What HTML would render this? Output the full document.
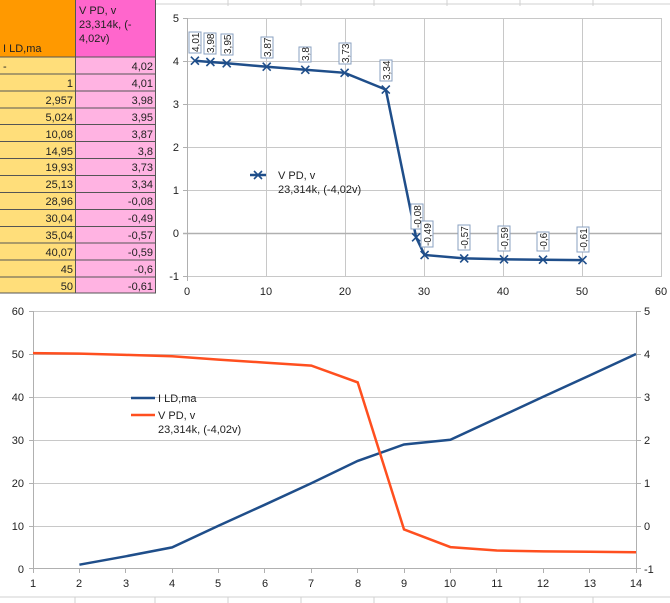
<!DOCTYPE html>
<html><head><meta charset="utf-8"><style>
body{margin:0;width:670px;height:603px;background:#fff;overflow:hidden;font-family:"Liberation Sans","DejaVu Sans",sans-serif}
svg{position:absolute;left:0;top:0}
</style></head><body>
<svg width="670" height="603" viewBox="0 0 670 603" font-family="Liberation Sans, DejaVu Sans, sans-serif">
<!-- sheet grid -->
<g stroke="#d0d0d0" stroke-width="1">
<line x1="228" y1="0" x2="228" y2="6"/><line x1="301" y1="0" x2="301" y2="6"/><line x1="374" y1="0" x2="374" y2="6"/><line x1="447" y1="0" x2="447" y2="6"/><line x1="520" y1="0" x2="520" y2="6"/><line x1="593" y1="0" x2="593" y2="6"/>
<line x1="0" y1="4" x2="670" y2="4"/>
<line x1="0" y1="597" x2="670" y2="597"/>
<line x1="75" y1="597" x2="75" y2="603"/><line x1="155" y1="597" x2="155" y2="603"/><line x1="228" y1="597" x2="228" y2="603"/><line x1="301" y1="597" x2="301" y2="603"/><line x1="374" y1="597" x2="374" y2="603"/><line x1="447" y1="597" x2="447" y2="603"/><line x1="520" y1="597" x2="520" y2="603"/><line x1="593" y1="597" x2="593" y2="603"/>
</g>
<!-- table -->
<rect x="0" y="0" width="76" height="57" fill="#ff9900"/>
<rect x="76" y="0" width="80" height="57" fill="#ff66cc"/>
<rect x="0" y="57" width="76" height="236" fill="#ffde7a"/>
<rect x="76" y="57" width="80" height="236" fill="#ffb3e2"/>
<g stroke="#555" stroke-width="1">
<line x1="0" y1="57" x2="156" y2="57"/><line x1="0" y1="74" x2="156" y2="74"/><line x1="0" y1="91" x2="156" y2="91"/><line x1="0" y1="108" x2="156" y2="108"/><line x1="0" y1="124.5" x2="156" y2="124.5"/><line x1="0" y1="141.5" x2="156" y2="141.5"/><line x1="0" y1="158.5" x2="156" y2="158.5"/><line x1="0" y1="175.5" x2="156" y2="175.5"/><line x1="0" y1="192.5" x2="156" y2="192.5"/><line x1="0" y1="209.5" x2="156" y2="209.5"/><line x1="0" y1="226.5" x2="156" y2="226.5"/><line x1="0" y1="243" x2="156" y2="243"/><line x1="0" y1="260" x2="156" y2="260"/><line x1="0" y1="277" x2="156" y2="277"/><line x1="0" y1="293" x2="156" y2="293"/>
<line x1="75.5" y1="0" x2="75.5" y2="293"/><line x1="155.5" y1="0" x2="155.5" y2="293"/>
</g>
<g font-size="11" fill="#222">
<text x="3" y="52">I LD,ma</text>
<text x="79" y="14">V PD, v</text><text x="79" y="28">23,314k, (-</text><text x="79" y="42">4,02v)</text>
<text x="3" y="70">-</text>
</g>
<g font-size="11" fill="#222" text-anchor="end">
<text x="73" y="87">1</text><text x="73" y="104">2,957</text><text x="73" y="121">5,024</text><text x="73" y="138">10,08</text><text x="73" y="155">14,95</text><text x="73" y="171">19,93</text><text x="73" y="188">25,13</text><text x="73" y="205">28,96</text><text x="73" y="222">30,04</text><text x="73" y="239">35,04</text><text x="73" y="256">40,07</text><text x="73" y="273">45</text><text x="73" y="290">50</text>
<text x="153" y="70">4,02</text><text x="153" y="87">4,01</text><text x="153" y="104">3,98</text><text x="153" y="121">3,95</text><text x="153" y="138">3,87</text><text x="153" y="155">3,8</text><text x="153" y="171">3,73</text><text x="153" y="188">3,34</text><text x="153" y="205">-0,08</text><text x="153" y="222">-0,49</text><text x="153" y="239">-0,57</text><text x="153" y="256">-0,59</text><text x="153" y="273">-0,6</text><text x="153" y="290">-0,61</text>
</g>

<!-- top chart -->
<g stroke="#c8c8c8" stroke-width="1">
<line x1="187" y1="18.5" x2="662" y2="18.5"/><line x1="187" y1="61.5" x2="662" y2="61.5"/><line x1="187" y1="104.5" x2="662" y2="104.5"/><line x1="187" y1="147.5" x2="662" y2="147.5"/><line x1="187" y1="190.5" x2="662" y2="190.5"/><line x1="187" y1="276.5" x2="662" y2="276.5"/>
<line x1="266.5" y1="18" x2="266.5" y2="277"/><line x1="345.5" y1="18" x2="345.5" y2="277"/><line x1="424.5" y1="18" x2="424.5" y2="277"/><line x1="503.5" y1="18" x2="503.5" y2="277"/><line x1="582.5" y1="18" x2="582.5" y2="277"/><line x1="661.5" y1="18" x2="661.5" y2="277"/>
</g>
<line x1="183" y1="233.5" x2="662" y2="233.5" stroke="#b0b0b0" stroke-width="1.5"/>
<line x1="187.5" y1="18" x2="187.5" y2="281" stroke="#b0b0b0"/>
<g stroke="#b0b0b0"><line x1="183" y1="18.5" x2="187" y2="18.5"/><line x1="183" y1="61.5" x2="187" y2="61.5"/><line x1="183" y1="104.5" x2="187" y2="104.5"/><line x1="183" y1="147.5" x2="187" y2="147.5"/><line x1="183" y1="190.5" x2="187" y2="190.5"/><line x1="183" y1="276.5" x2="187" y2="276.5"/></g>
<g font-size="11" fill="#222" text-anchor="end">
<text x="179" y="22">5</text><text x="179" y="65">4</text><text x="179" y="108">3</text><text x="179" y="151">2</text><text x="179" y="194">1</text><text x="179" y="237">0</text><text x="179" y="280">-1</text>
</g>
<g font-size="11" fill="#222" text-anchor="middle">
<text x="187" y="295">0</text><text x="266" y="295">10</text><text x="345" y="295">20</text><text x="424" y="295">30</text><text x="503" y="295">40</text><text x="582" y="295">50</text><text x="661" y="295">60</text>
</g>
<polyline fill="none" stroke="#1f4e8a" stroke-width="2.5" points="194.9,60.7 210.4,62 226.7,63.3 266.7,66.7 305.3,69.8 344.6,72.8 385.8,89.6 416.1,237.3 424.6,255 464.2,258.4 504,259.3 543,259.7 582.5,260.1"/>
<g stroke="#1f4e8a" stroke-width="1.6">
<path d="M190.9 56.7l8 8m0-8l-8 8M206.4 58l8 8m0-8l-8 8M222.7 59.3l8 8m0-8l-8 8M262.7 62.7l8 8m0-8l-8 8M301.3 65.8l8 8m0-8l-8 8M340.6 68.8l8 8m0-8l-8 8M381.8 85.6l8 8m0-8l-8 8M412.1 233.3l8 8m0-8l-8 8M420.6 251l8 8m0-8l-8 8M460.2 254.4l8 8m0-8l-8 8M500 255.3l8 8m0-8l-8 8M539 255.7l8 8m0-8l-8 8M578.5 256.1l8 8m0-8l-8 8"/>
</g>
<g fill="#fff" stroke="#8aa0c0" stroke-width="1">
<rect x="189" y="32" width="12" height="21"/><rect x="204" y="33" width="12" height="21"/><rect x="221" y="34" width="12" height="21"/>
<rect x="261" y="37" width="12" height="21"/><rect x="299" y="47" width="12" height="15"/><rect x="339" y="43" width="12" height="21"/>
<rect x="380" y="60" width="12" height="21"/><rect x="411" y="204" width="12" height="25"/><rect x="421" y="221" width="12" height="26"/>
<rect x="458" y="225" width="12" height="25"/><rect x="498" y="226" width="12" height="25"/><rect x="537" y="232" width="12" height="19"/><rect x="577" y="227" width="12" height="25"/>
</g>
<g font-size="10" fill="#222">
<text transform="translate(199,52) rotate(-90)">4,01</text><text transform="translate(214,53) rotate(-90)">3,98</text><text transform="translate(231,54) rotate(-90)">3,95</text>
<text transform="translate(271,57) rotate(-90)">3,87</text><text transform="translate(309,61) rotate(-90)">3,8</text><text transform="translate(349,63) rotate(-90)">3,73</text>
<text transform="translate(390,80) rotate(-90)">3,34</text><text transform="translate(421,228) rotate(-90)">-0,08</text><text transform="translate(431,246) rotate(-90)">-0,49</text>
<text transform="translate(468,249) rotate(-90)">-0,57</text><text transform="translate(508,250) rotate(-90)">-0,59</text><text transform="translate(547,250) rotate(-90)">-0,6</text><text transform="translate(587,251) rotate(-90)">-0,61</text>
</g>
<line x1="250" y1="175" x2="266" y2="175" stroke="#1f4e8a" stroke-width="2.5"/>
<path d="M254 171l8 8m0-8l-8 8" stroke="#1f4e8a" stroke-width="1.6"/>
<text x="278" y="179" font-size="11" fill="#222">V PD, v</text>
<text x="278" y="193" font-size="11" fill="#222">23,314k, (-4,02v)</text>

<!-- bottom chart -->
<g stroke="#c8c8c8" stroke-width="1">
<line x1="33" y1="311.5" x2="636" y2="311.5"/><line x1="33" y1="354.5" x2="636" y2="354.5"/><line x1="33" y1="397.5" x2="636" y2="397.5"/><line x1="33" y1="440.5" x2="636" y2="440.5"/><line x1="33" y1="483.5" x2="636" y2="483.5"/><line x1="33" y1="526.5" x2="636" y2="526.5"/>
</g>
<line x1="33" y1="568.5" x2="637" y2="568.5" stroke="#b0b0b0"/>
<line x1="33.5" y1="311" x2="33.5" y2="573" stroke="#b0b0b0"/>
<line x1="636.5" y1="311" x2="636.5" y2="573" stroke="#b0b0b0"/>
<g stroke="#b0b0b0"><line x1="29" y1="311.5" x2="33" y2="311.5"/><line x1="29" y1="354.5" x2="33" y2="354.5"/><line x1="29" y1="397.5" x2="33" y2="397.5"/><line x1="29" y1="440.5" x2="33" y2="440.5"/><line x1="29" y1="483.5" x2="33" y2="483.5"/><line x1="29" y1="526.5" x2="33" y2="526.5"/><line x1="29" y1="568.5" x2="33" y2="568.5"/>
<line x1="636" y1="311.5" x2="641" y2="311.5"/><line x1="636" y1="354.5" x2="641" y2="354.5"/><line x1="636" y1="397.5" x2="641" y2="397.5"/><line x1="636" y1="440.5" x2="641" y2="440.5"/><line x1="636" y1="483.5" x2="641" y2="483.5"/><line x1="636" y1="526.5" x2="641" y2="526.5"/><line x1="636" y1="568.5" x2="641" y2="568.5"/>
<line x1="79.5" y1="569" x2="79.5" y2="573"/><line x1="125.5" y1="569" x2="125.5" y2="573"/><line x1="172.5" y1="569" x2="172.5" y2="573"/><line x1="218.5" y1="569" x2="218.5" y2="573"/><line x1="264.5" y1="569" x2="264.5" y2="573"/><line x1="311.5" y1="569" x2="311.5" y2="573"/><line x1="357.5" y1="569" x2="357.5" y2="573"/><line x1="404.5" y1="569" x2="404.5" y2="573"/><line x1="450.5" y1="569" x2="450.5" y2="573"/><line x1="496.5" y1="569" x2="496.5" y2="573"/><line x1="543.5" y1="569" x2="543.5" y2="573"/><line x1="589.5" y1="569" x2="589.5" y2="573"/></g>
<g font-size="11" fill="#222" text-anchor="end">
<text x="24" y="315">60</text><text x="24" y="358">50</text><text x="24" y="401">40</text><text x="24" y="444">30</text><text x="24" y="487">20</text><text x="24" y="530">10</text><text x="24" y="573">0</text>
</g>
<g font-size="11" fill="#222">
<text x="644" y="315">5</text><text x="644" y="358">4</text><text x="644" y="401">3</text><text x="644" y="444">2</text><text x="644" y="487">1</text><text x="644" y="530">0</text><text x="644" y="573">-1</text>
</g>
<g font-size="11" fill="#222" text-anchor="middle">
<text x="33" y="587">1</text><text x="79" y="587">2</text><text x="126" y="587">3</text><text x="172" y="587">4</text><text x="218" y="587">5</text><text x="265" y="587">6</text><text x="311" y="587">7</text><text x="358" y="587">8</text><text x="404" y="587">9</text><text x="450" y="587">10</text><text x="497" y="587">11</text><text x="543" y="587">12</text><text x="590" y="587">13</text><text x="636" y="587">14</text>
</g>
<polyline fill="none" stroke="#1f4e8a" stroke-width="2.5" points="79.4,564.7 125.8,556.3 172.1,547.4 218.5,525.7 264.9,504.7 311.3,483.3 357.7,460.9 404,444.5 450.4,439.8 496.8,418.3 543.2,396.7 589.6,375.5 636,354"/>
<polyline fill="none" stroke="#ff4f1f" stroke-width="2.5" points="33,353.1 79.4,353.6 125.8,354.9 172.1,356.2 218.5,359.6 264.9,362.6 311.3,365.6 357.7,382.4 404,529.4 450.4,547.1 496.8,550.5 543.2,551.4 589.6,551.8 636,552.2"/>
<line x1="131" y1="398" x2="155" y2="398" stroke="#1f4e8a" stroke-width="2.5"/>
<line x1="131" y1="415" x2="155" y2="415" stroke="#ff4f1f" stroke-width="2.5"/>
<g font-size="11" fill="#222">
<text x="158" y="402">I LD,ma</text><text x="158" y="419">V PD, v</text><text x="158" y="433">23,314k, (-4,02v)</text>
</g>
</svg>
</body></html>
